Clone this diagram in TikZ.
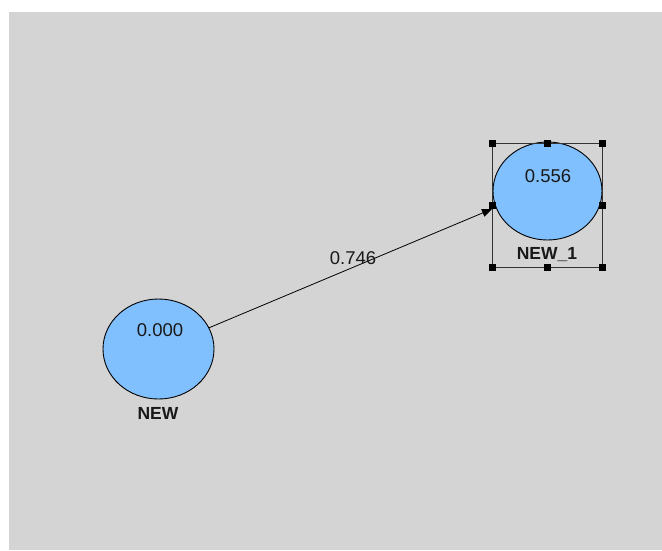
\documentclass[tikz,border=0pt]{standalone}
\usepackage{fontspec}
\setmainfont{Liberation Sans}
\usetikzlibrary{shapes.geometric,arrows.meta}
\definecolor{bggray}{HTML}{D4D4D4}
\definecolor{nodeblue}{HTML}{80C0FF}
\tikzset{
  every picture/.style={x=1pt,y=-1pt},
  bnode/.style={ellipse,draw=black,fill=nodeblue,line width=0.9pt},
  valtext/.style={font=\fontsize{18.5}{20}\selectfont,text=black!90},
  nametext/.style={font=\fontsize{17.5}{19}\selectfont\bfseries,text=black!90},
  handle/.style={fill=black,minimum size=7pt,inner sep=0pt},
  selbox/.style={draw=black!80,line width=0.8pt},
  conn/.style={draw=black,line width=0.8pt,-{Triangle[length=10pt,width=8pt]}}
}
\begin{document}
\begin{tikzpicture}
\useasboundingbox (0,0) rectangle (662,550);
\fill[bggray] (9,12) rectangle (662,550);
% nodes
\node[bnode,minimum width=111pt,minimum height=100pt] (n0) at (158.5,349) {};
\node[bnode,minimum width=109pt,minimum height=98pt] (n1) at (547.5,191) {};
\node[valtext] (v0) at (160,330) {0.000};
\node[valtext] (v1) at (548,176) {0.556};
\node[nametext] (l0) at (158,413) {NEW};
\node[nametext] (l1) at (547,255) {NEW\_1};
% selection box
\coordinate (s1) at (492,143);
\coordinate (s2) at (602,143);
\coordinate (s3) at (602,267);
\coordinate (s4) at (492,267);
\draw[selbox] (s1) -- (s2) -- (s3) -- (s4) -- cycle;
\node[handle] (h1) at (s1) {};
\node[handle] (h2) at (547,143) {};
\node[handle] (h3) at (s2) {};
\node[handle] (h4) at (602,205) {};
\node[handle] (h5) at (s3) {};
\node[handle] (h6) at (547,267) {};
\node[handle] (h7) at (s4) {};
\node[handle] (h8) at (492,205) {};
% connector
\coordinate (a1) at (492,209);
\draw[conn] (n0) -- (a1);
\node[valtext] (e) at (353,258) {0.746};
\end{tikzpicture}
\end{document}
